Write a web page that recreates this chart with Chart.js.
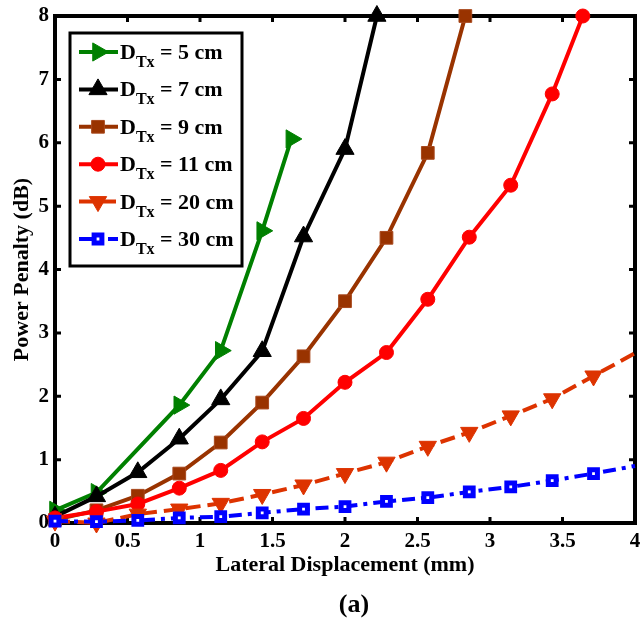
<!DOCTYPE html>
<html>
<head>
<meta charset="utf-8">
<script src="https://cdn.jsdelivr.net/npm/chart.js@4/dist/chart.umd.min.js"></script>
<style>
  html, body { margin: 0; padding: 0; background: #fff; }
</style>
</head>
<body>
<canvas id="chart" width="641" height="625"></canvas>
<script>
// transmitter distances (cm) shown in the legend
const txDistances = [5, 7, 9, 11, 20, 30];

// lateral displacement (mm) and power penalty (dB) per series
const x5cm = [0, 0.286, 0.857, 1.143, 1.429, 1.63];
const y5cm = [0.2, 0.48, 1.86, 2.72, 4.61, 6.06];

const x7cm = [0, 0.286, 0.571, 0.857, 1.143, 1.429, 1.714, 2.0, 2.22];
const y7cm = [0.1, 0.42, 0.8, 1.33, 1.95, 2.71, 4.52, 5.9, 8];

const x9cm = [0, 0.286, 0.571, 0.857, 1.143, 1.429, 1.714, 2.0, 2.286, 2.571, 2.83];
const y9cm = [0.05, 0.2, 0.43, 0.78, 1.27, 1.9, 2.63, 3.5, 4.5, 5.84, 8];

const x11cm = [0, 0.286, 0.571, 0.857, 1.143, 1.429, 1.714, 2.0, 2.286, 2.571, 2.857, 3.143, 3.429, 3.64];
const y11cm = [0.08, 0.18, 0.3, 0.55, 0.83, 1.28, 1.65, 2.22, 2.69, 3.53, 4.51, 5.33, 6.77, 8];

const x20cm = [0, 0.286, 0.571, 0.857, 1.143, 1.429, 1.714, 2.0, 2.286, 2.571, 2.857, 3.143, 3.429, 3.714, 4.0];
const y20cm = [0.03, 0.0, 0.14, 0.22, 0.31, 0.45, 0.6, 0.78, 0.96, 1.21, 1.43, 1.69, 1.96, 2.32, 2.68];

const x30cm = [0, 0.286, 0.571, 0.857, 1.143, 1.429, 1.714, 2.0, 2.286, 2.571, 2.857, 3.143, 3.429, 3.714, 4.0];
const y30cm = [0.03, 0.02, 0.04, 0.08, 0.1, 0.16, 0.22, 0.26, 0.34, 0.4, 0.49, 0.57, 0.67, 0.78, 0.9];

const xTicks = { min: 0, max: 4, step: 0.5 };
const yTicks = { min: 0, max: 8, step: 1 };

const FONT = "'Liberation Serif', 'Times New Roman', serif";

const pts = (xs, ys) => xs.map((x, i) => ({ x: x, y: ys[i] }));
// series that run past the right edge: no marker on the last point
const hideLast = (xs, r) => xs.map((_, i) => i === xs.length - 1 ? 0 : r);

const datasets = [
    {
        data: pts(x5cm, y5cm), borderColor: '#008000',
        pointStyle: 'triangle', pointRotation: 90, pointRadius: 10.5,
        pointBackgroundColor: '#008000', pointBorderColor: '#008000', pointBorderWidth: 1, order: 5
    },
    {
        data: pts(x7cm, y7cm), borderColor: '#000000',
        pointStyle: 'triangle', pointRotation: 0, pointRadius: 10.5,
        pointBackgroundColor: '#000000', pointBorderColor: '#000000', pointBorderWidth: 1, order: 4
    },
    {
        data: pts(x9cm, y9cm), borderColor: '#993300',
        pointStyle: 'rect', pointRotation: 0, pointRadius: 9,
        pointBackgroundColor: '#993300', pointBorderColor: '#a8481c', pointBorderWidth: 1, order: 3
    },
    {
        data: pts(x11cm, y11cm), borderColor: '#ff0000',
        pointStyle: 'circle', pointRotation: 0, pointRadius: 7,
        pointBackgroundColor: '#ff0000', pointBorderColor: '#ff0000', pointBorderWidth: 1, order: 2
    },
    {
        data: pts(x20cm, y20cm), borderColor: '#dd3300', borderDash: [15, 7],
        pointStyle: 'triangle', pointRotation: 180, pointRadius: hideLast(x20cm, 10),
        pointBackgroundColor: '#dd3300', pointBorderColor: '#dd3300', pointBorderWidth: 1, order: 1
    },
    {
        data: pts(x30cm, y30cm), borderColor: '#0000ff', borderDash: [13, 6, 4, 6],
        pointStyle: 'rect', pointRotation: 0, pointRadius: hideLast(x30cm, 5.5),
        pointBackgroundColor: '#ffffff', pointBorderColor: '#0000ff', pointBorderWidth: 5, order: 0
    }
].map(ds => Object.assign({ borderWidth: 4, tension: 0, clip: false, showLine: true }, ds));

// box around the plot with inward ticks on all four sides
const boxAndTicks = {
    id: 'boxAndTicks',
    beforeDatasetsDraw(chart) {
        const { ctx, chartArea: a, scales: { x, y } } = chart;
        ctx.save();
        ctx.strokeStyle = '#000';
        ctx.lineWidth = 3;
        ctx.beginPath();
        x.ticks.forEach(t => {
            const px = x.getPixelForValue(t.value);
            ctx.moveTo(px, a.bottom); ctx.lineTo(px, a.bottom - 6);
            ctx.moveTo(px, a.top); ctx.lineTo(px, a.top + 6);
        });
        y.ticks.forEach(t => {
            const py = y.getPixelForValue(t.value);
            ctx.moveTo(a.left, py); ctx.lineTo(a.left + 6, py);
            ctx.moveTo(a.right, py); ctx.lineTo(a.right - 6, py);
        });
        ctx.stroke();
        ctx.lineWidth = 4;
        ctx.strokeRect(a.left, a.top, a.right - a.left, a.bottom - a.top);
        ctx.restore();
    }
};

// legend with subscripted D_Tx labels, plus the "(a)" caption
const dtxLegend = {
    id: 'dtxLegend',
    afterDraw(chart) {
        const { ctx, chartArea: a } = chart;
        const left = a.left + 15, top = a.top + 17, w = 172, h = 233;
        ctx.save();
        ctx.fillStyle = '#fff';
        ctx.fillRect(left, top, w, h);
        ctx.strokeStyle = '#000';
        ctx.lineWidth = 3;
        ctx.strokeRect(left, top, w, h);

        chart.data.datasets.forEach((ds, i) => {
            const cy = top + 19 + i * 37.4;
            ctx.setLineDash(ds.borderDash || []);
            ctx.strokeStyle = ds.borderColor;
            ctx.lineWidth = 4;
            ctx.beginPath();
            ctx.moveTo(left + 9, cy);
            ctx.lineTo(left + 48, cy);
            ctx.stroke();
            ctx.setLineDash([]);

            const r = Array.isArray(ds.pointRadius) ? ds.pointRadius[0] : ds.pointRadius;
            ctx.fillStyle = ds.pointBackgroundColor;
            ctx.strokeStyle = ds.pointBorderColor;
            ctx.lineWidth = ds.pointBorderWidth;
            Chart.helpers.drawPoint(ctx, {
                pointStyle: ds.pointStyle, rotation: ds.pointRotation,
                radius: r, borderWidth: ds.pointBorderWidth
            }, left + 28, cy);

            ctx.fillStyle = '#000';
            ctx.textBaseline = 'alphabetic';
            ctx.textAlign = 'left';
            let tx = left + 50;
            ctx.font = 'bold 22px ' + FONT;
            ctx.fillText('D', tx, cy + 7);
            tx += ctx.measureText('D').width;
            ctx.font = 'bold 16px ' + FONT;
            ctx.fillText('Tx', tx, cy + 15);
            tx += ctx.measureText('Tx').width;
            ctx.font = 'bold 22px ' + FONT;
            ctx.fillText(' = ' + txDistances[i] + ' cm', tx, cy + 7);
        });

        ctx.font = 'bold 26px ' + FONT;
        ctx.textAlign = 'center';
        ctx.textBaseline = 'middle';
        ctx.fillText('(a)', (a.left + a.right) / 2 + 9, 605);
        ctx.restore();
    }
};

const tickFont = { family: FONT, size: 21, weight: 'bold' };
const titleFont = { family: FONT, size: 22, weight: 'bold' };

// fixed axis sizes so the plot box lands where the original figure has it
const fixSize = (w, h) => s => {
    if (w !== null) s.width = w;
    if (h !== null) s.height = h;
    s.paddingLeft = 0; s.paddingRight = 0; s.paddingTop = 0; s.paddingBottom = 0;
};

new Chart(document.getElementById('chart'), {
    type: 'line',
    data: { datasets: datasets },
    options: {
        responsive: false,
        animation: false,
        layout: { autoPadding: false, padding: { left: 0, right: 6, top: 16, bottom: 45 } },
        plugins: {
            legend: { display: false },
            tooltip: { enabled: false }
        },
        scales: {
            x: {
                type: 'linear',
                min: xTicks.min, max: xTicks.max,
                ticks: {
                    stepSize: xTicks.step, padding: 6, font: tickFont, color: '#000',
                    maxRotation: 0, autoSkip: false, callback: v => String(v)
                },
                grid: { display: false, drawTicks: false },
                border: { display: false },
                title: { display: true, text: 'Lateral Displacement (mm)', font: titleFont, color: '#000', padding: { top: 0, bottom: 1 } },
                afterFit: fixSize(null, 57)
            },
            y: {
                type: 'linear',
                min: yTicks.min, max: yTicks.max,
                ticks: { stepSize: yTicks.step, padding: 6, font: tickFont, color: '#000', callback: v => String(v) },
                grid: { display: false, drawTicks: false },
                border: { display: false },
                title: { display: true, text: 'Power Penalty (dB)', font: titleFont, color: '#000', padding: { top: 9, bottom: 0 } },
                afterFit: fixSize(55, null)
            }
        }
    },
    plugins: [boxAndTicks, dtxLegend]
});
</script>
</body>
</html>
